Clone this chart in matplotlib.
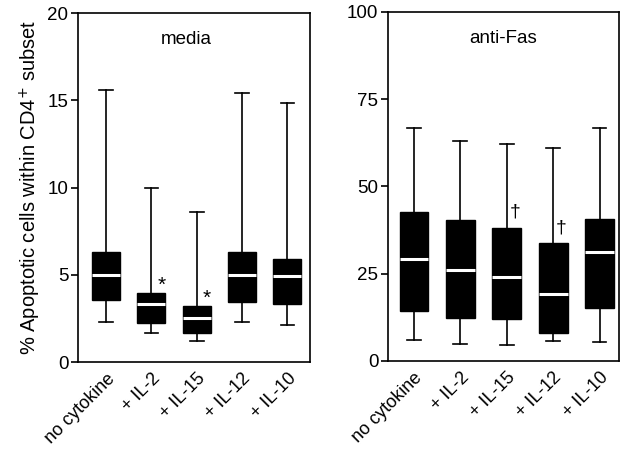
import matplotlib
matplotlib.use("Agg")
import matplotlib.pyplot as plt

plt.rcParams['font.family'] = ['Liberation Sans', 'DejaVu Sans']

groups = ["no cytokine", "+ IL-2", "+ IL-15", "+ IL-12", "+ IL-10"]

# media panel (% apoptotic)
media_lo = [2.3, 1.65, 1.2, 2.3, 2.1]
media_q1 = [3.55, 2.25, 1.65, 3.45, 3.3]
media_med = [5.0, 3.3, 2.55, 5.0, 4.95]
media_q3 = [6.3, 3.95, 3.2, 6.3, 5.9]
media_hi = [15.6, 10.0, 8.6, 15.4, 14.85]
media_marks = ["", "*", "*", "", ""]

# anti-Fas panel
fas_lo = [6.0, 5.0, 4.5, 5.8, 5.5]
fas_q1 = [14.4, 12.2, 12.0, 7.9, 15.2]
fas_med = [29.3, 26.2, 24.0, 19.2, 31.2]
fas_q3 = [42.8, 40.4, 38.2, 33.7, 40.7]
fas_hi = [66.8, 63.0, 62.3, 61.1, 66.8]
fas_marks = ["", "", "\u2020", "\u2020", ""]


def make_stats(lo, q1, med, q3, hi):
    stats = []
    for i in range(len(lo)):
        stats.append({"whislo": lo[i], "q1": q1[i], "med": med[i],
                      "q3": q3[i], "whishi": hi[i], "fliers": []})
    return stats


def draw_panel(ax, stats, marks, ymax, yticks, title, title_x, mark_dx, mark_dy, mark_fs):
    pos = list(range(1, len(stats) + 1))
    ax.bxp(stats, positions=pos, widths=0.62, patch_artist=True,
           showfliers=False, capwidths=0.3,
           boxprops=dict(facecolor="black", edgecolor="black", linewidth=1.0),
           medianprops=dict(color="white", linewidth=2.2),
           whiskerprops=dict(color="black", linewidth=1.2),
           capprops=dict(color="black", linewidth=1.2))
    for p, s, m in zip(pos, stats, marks):
        if m:
            ax.text(p + mark_dx, s["q3"] + mark_dy, m, ha="center", va="center",
                    fontsize=mark_fs)
    ax.set_ylim(0, ymax)
    ax.set_yticks(yticks)
    ax.set_xticks(pos)
    ax.set_xticklabels(groups, rotation=45, ha="right", rotation_mode="anchor",
                       fontsize=13)
    ax.tick_params(axis="x", length=0, pad=6)
    ax.tick_params(axis="y", direction="out", length=5, width=1.2, labelsize=13.5, pad=2)
    for sp in ax.spines.values():
        sp.set_linewidth(1.2)
    ax.text(title_x, 0.925, title, transform=ax.transAxes, ha="center", va="center",
            fontsize=13.5)


fig = plt.figure(figsize=(6.2, 4.51), dpi=100)
ax1 = fig.add_axes([0.1258, 0.1973, 0.3742, 0.7738])
ax2 = fig.add_axes([0.6258, 0.1996, 0.3726, 0.7738])

draw_panel(ax1, make_stats(media_lo, media_q1, media_med, media_q3, media_hi),
           media_marks, 20, [0, 5, 10, 15, 20], "media", 0.465, 0.22, 0.45, 15)
ax1.set_xlim(0.38, 5.5)
ax1.set_ylabel("% Apoptotic cells within CD4$^{+}$ subset", fontsize=14.5, labelpad=3)

draw_panel(ax2, make_stats(fas_lo, fas_q1, fas_med, fas_q3, fas_hi),
           fas_marks, 100, [0, 25, 50, 75, 100], "anti-Fas", 0.5, 0.17, 4.4, 14)
ax2.set_xlim(0.44, 5.42)

fig.savefig("out.png", dpi=100)
